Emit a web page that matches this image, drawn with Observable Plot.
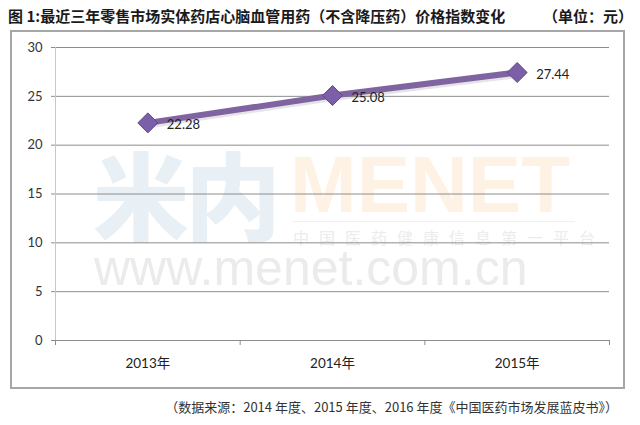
<!DOCTYPE html>
<html>
<head>
<meta charset="utf-8">
<script src="https://cdn.jsdelivr.net/npm/d3@7"></script>
<script src="https://cdn.jsdelivr.net/npm/@observablehq/plot@0.6"></script>
<style>
  html, body { margin: 0; padding: 0; background: #fff; }
  #wrap { position: relative; width: 640px; height: 425px; overflow: hidden;
          font-family: Lato, "Noto Sans CJK SC", sans-serif; color: #222; }
  .abs { position: absolute; white-space: nowrap; }
  #title { top: 6px; left: 8px; font-size: 15px; font-weight: bold; line-height: 20px;
           font-family: "Noto Sans CJK SC", sans-serif; color: #1a1a1a; }
  #unit { top: 6px; left: 543px; font-size: 15px; font-weight: bold; line-height: 20px;
          font-family: "Noto Sans CJK SC", sans-serif; color: #1a1a1a; }
  #chart { top: 30px; left: 10px; z-index: 2; }
  #chart svg { outline: 2px solid #a6a6a6; outline-offset: -2px; background: transparent; }
  #caption { top: 398px; right: 22px; font-size: 13px; line-height: 18px; color: #333;
             font-family: "Noto Sans CJK SC", sans-serif; }
  .wm { z-index: 1; }
  #wm1 { top: 150px; left: 93px; font-size: 96px; line-height: 84px; height: 90px; font-weight: 900; color: #e8f0f5;
         font-family: "Noto Sans CJK SC", sans-serif; letter-spacing: -4px; }
  #wm2 { top: 150px; left: 290px; font-size: 80px; line-height: 70px; height: 68px; font-weight: bold; color: #fef2e4;
         font-family: "Liberation Sans", sans-serif; }
  #wm3 { top: 229px; left: 293px; font-size: 16px; line-height: 16px; color: #ececec; letter-spacing: 10px;
         font-family: "Noto Sans CJK SC", sans-serif; }
  #wm4 { top: 248px; left: 94px; font-size: 50px; line-height: 40px; color: #ebebeb;
         font-family: "Liberation Sans", sans-serif; }
  #wmline { top: 221px; left: 293px; width: 282px; height: 1px; background: #f0f0f0; z-index: 1; }
</style>
</head>
<body>
<div id="wrap">
  <div id="title" class="abs">图 1:最近三年零售市场实体药店心脑血管用药（不含降压药）价格指数变化</div>
  <div id="unit" class="abs">（单位：元）</div>
  <div id="wm1" class="abs wm">米内</div>
  <div id="wm2" class="abs wm">MENET</div>
  <div id="wmline" class="abs"></div>
  <div id="wm3" class="abs wm">中国医药健康信息第一平台</div>
  <div id="wm4" class="abs wm">www.menet.com.cn</div>
  <div id="chart" class="abs"></div>
  <div id="caption" class="abs">（数据来源：2014 年度、2015 年度、2016 年度《中国医药市场发展蓝皮书》）</div>
</div>
<script>
const categories = ["2013年", "2014年", "2015年"];
const values = [22.28, 25.08, 27.44];
const yTicks = [0, 5, 10, 15, 20, 25, 30];

const data = categories.map((c, i) => ({cat: c, pos: i + 0.5, v: values[i]}));
const boundaries = d3.range(categories.length + 1);
const centers = data.map(d => d.pos);

const chart = Plot.plot({
  width: 615,
  height: 359,
  marginLeft: 45,
  marginRight: 16,
  marginTop: 17,
  marginBottom: 49,
  style: {fontFamily: "Lato, 'Noto Sans CJK SC', sans-serif", background: "transparent", color: "#222"},
  x: {domain: [0, categories.length], axis: null},
  y: {domain: [0, 30], axis: null},
  marks: [
    Plot.ruleY(yTicks.filter(t => t > 0), {stroke: "#8c8c8c", strokeWidth: 1}),
    Plot.ruleX([0], {stroke: "#c8c8c8", strokeWidth: 1}),
    Plot.ruleY([0], {stroke: "#8c8c8c", strokeWidth: 1}),
    Plot.axisY({ticks: yTicks, label: null, tickSize: 4, tickPadding: 9, stroke: "#8c8c8c", fill: "#333", fontSize: 13}),
    Plot.axisX({ticks: boundaries, label: null, tickSize: 5, tickFormat: () => "", stroke: "#8c8c8c"}),
    Plot.axisX({ticks: centers, label: null, tickSize: 0, tickPadding: 18, tickFormat: (d, i) => categories[i], fill: "#222", fontSize: 13.5}),
    Plot.line(data, {x: "pos", y: "v", stroke: "#000", strokeOpacity: 0.1, strokeWidth: 7, dx: 1, dy: 2}),
    Plot.line(data, {x: "pos", y: "v", stroke: "#8064A2", strokeWidth: 6}),
    Plot.dot(data, {x: "pos", y: "v", symbol: "diamond2", r: 9, fill: "#7b5fa8", stroke: "#5e4785", strokeWidth: 1}),
    Plot.text(data, {x: "pos", y: "v", text: d => d.v.toFixed(2), dx: 19, dy: 2, textAnchor: "start", fontSize: 13, fill: "#222"})
  ]
});
document.getElementById("chart").appendChild(chart);
</script>
</body>
</html>
